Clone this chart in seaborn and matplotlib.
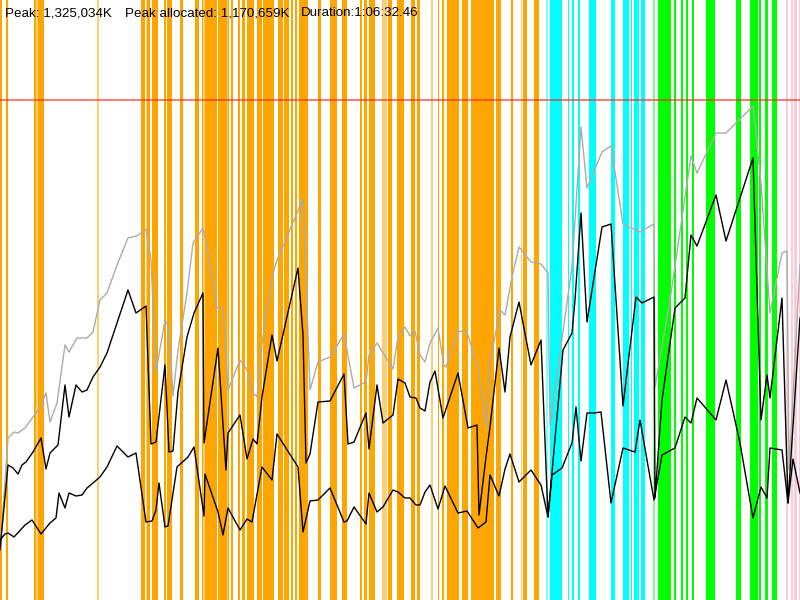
import matplotlib
matplotlib.use("Agg")
import matplotlib.pyplot as plt
import seaborn as sns
import pandas as pd

# ---------------- data (time in px-units, memory in relative units; peak = 500) -------------
peak_level = 500
header_peak = "Peak: 1,325,034K"
header_alloc = "Peak allocated: 1,170,659K"
header_duration = "Duration:1:06:32.46"

committed_t = [1, 8, 14, 18, 25, 33, 40, 46, 50, 57, 65, 69, 77, 87, 93, 100, 107, 117, 128, 137,
               146, 151, 156, 165, 169, 173, 178, 187, 193, 203, 207, 217, 223, 228, 240, 247, 253, 257, 262, 272,
               277, 303, 310, 318, 330, 344, 354, 366, 369, 377, 393, 398, 405, 410, 415, 420, 425, 430, 438, 444,
               446, 458, 467, 478, 486, 490, 500, 505, 512, 519, 531, 541, 548, 550, 572, 581, 587, 602, 611, 623,
               640, 654, 655, 670, 691, 697, 716, 726, 753, 761, 770, 782, 787, 789, 800]
committed_mem = [60, 162, 168, 167, 172, 183, 193, 207, 178, 197, 255, 248, 262, 262, 268, 300, 307, 335, 362, 364,
                 371, 340, 228, 280, 273, 204, 250, 307, 357, 372, 353, 292, 292, 210, 240, 230, 207, 203, 257, 323,
                 340, 401, 210, 238, 243, 266, 212, 218, 245, 257, 231, 263, 273, 264, 269, 245, 238, 257, 272, 234,
                 233, 269, 268, 232, 173, 238, 290, 285, 323, 353, 338, 336, 327, 175, 333, 473, 412, 448, 454, 376,
                 368, 376, 213, 300, 444, 427, 467, 467, 494, 417, 287, 347, 349, 130, 335]

used_t = [0, 8, 13, 18, 22, 26, 33, 41, 46, 50, 58, 65, 69, 76, 82, 87, 93, 100, 107, 117,
          128, 136, 146, 151, 156, 165, 169, 173, 178, 187, 194, 203, 204, 218, 226, 228, 240, 247, 253, 257,
          262, 272, 277, 298, 303, 306, 310, 318, 330, 344, 348, 354, 366, 369, 377, 383, 393, 398, 405, 410,
          416, 420, 425, 430, 435, 443, 458, 468, 477, 479, 486, 490, 499, 505, 510, 519, 531, 541, 548, 563,
          572, 575, 581, 587, 602, 611, 623, 636, 642, 654, 655, 662, 675, 685, 691, 697, 716, 726, 753, 761,
          767, 770, 782, 788, 800]
used_mem = [50, 135, 132, 126, 135, 138, 148, 162, 131, 147, 155, 215, 183, 215, 208, 210, 223, 233, 247, 277,
            310, 287, 294, 156, 158, 235, 148, 149, 208, 263, 287, 307, 157, 252, 130, 167, 185, 141, 161, 156,
            203, 265, 239, 332, 265, 137, 146, 198, 199, 226, 156, 158, 187, 151, 215, 177, 185, 221, 217, 203,
            202, 192, 189, 218, 229, 182, 227, 172, 175, 85, 143, 173, 252, 208, 263, 298, 235, 260, 83, 250,
            267, 300, 387, 278, 373, 376, 194, 303, 297, 303, 102, 200, 292, 302, 365, 354, 405, 359, 442, 180,
            225, 202, 302, 97, 282]

live_t = [0, 5, 8, 14, 25, 32, 41, 50, 56, 59, 65, 69, 76, 82, 87, 100, 107, 117, 128, 136,
          146, 152, 156, 159, 165, 168, 177, 188, 194, 204, 205, 218, 223, 228, 240, 247, 252, 262, 272, 277,
          298, 303, 310, 318, 330, 344, 347, 354, 366, 369, 377, 383, 393, 398, 405, 410, 416, 420, 425, 430,
          438, 445, 458, 467, 478, 486, 490, 499, 505, 510, 519, 531, 541, 548, 552, 562, 572, 576, 581, 587,
          594, 601, 611, 623, 635, 640, 654, 662, 675, 685, 691, 697, 716, 726, 740, 753, 761, 767, 770, 782,
          788, 793, 800]
live_mem = [60, 66, 67, 63, 75, 80, 66, 77, 82, 107, 92, 107, 104, 105, 112, 123, 133, 154, 143, 147,
            78, 79, 90, 117, 73, 74, 133, 143, 153, 84, 126, 88, 65, 92, 70, 81, 78, 133, 120, 166,
            133, 68, 99, 100, 112, 78, 79, 93, 76, 107, 88, 93, 110, 108, 102, 102, 95, 95, 108, 115,
            91, 114, 87, 89, 72, 78, 125, 104, 131, 146, 118, 130, 115, 83, 125, 132, 157, 193, 139, 187,
            187, 188, 97, 152, 148, 180, 100, 145, 152, 183, 177, 202, 180, 220, 157, 82, 113, 102, 152, 150,
            97, 141, 107]

# GC / event intervals (start, end)
orange_events = [(0, 2), (6, 7.7), (34, 36), (37.5, 44), (141, 145.3), (147, 150), (151.7, 156), (156.3, 158.3),
                 (164, 166), (166.7, 172), (180, 183), (194.7, 199), (201.7, 203.3), (204.7, 212.7), (213.3, 216.7),
                 (218.3, 226.7), (228, 229.3), (230.7, 233.3), (237.7, 240), (241.7, 245), (246.7, 254),
                 (257.3, 261.7), (263.3, 274), (278, 282.7), (284, 289.3), (290.7, 293.3), (294.7, 297.3),
                 (299.3, 308.3), (317.7, 320.7), (330, 336.7), (342, 346.7), (360, 362), (364, 366.7),
                 (369.3, 375), (388.3, 392.3), (396.7, 404), (410.7, 415), (416.7, 420), (437.7, 439.3),
                 (441.7, 444), (446.7, 459.3), (461.7, 468.3), (470.7, 494.3), (496, 501), (511, 512.7),
                 (523.3, 527.3), (534.3, 539.3)]
orange_minor = [(36, 37.5), (97, 98.7), (145.5, 147), (203.3, 204.7), (226.7, 228), (381.7, 386.7),
                (431, 432.7), (520.7, 522.3)]
cyan_events = [(550, 562), (567.7, 569.3), (571.7, 574), (577.7, 580), (589.3, 596), (611, 615),
               (622.7, 629.3), (630.7, 631.7), (634.3, 638.7), (640.7, 645)]
cyan_minor = [(546, 548)]
green_events = [(657.7, 660.7), (661.3, 664.7), (665.3, 671), (674, 675.7), (680.7, 682.7), (685.7, 688.3),
                (691.7, 694), (706, 711.7), (712.3, 715), (735.7, 741.3), (750, 752.7), (753.3, 758.3),
                (759.3, 761), (765, 768.3), (771.7, 776.7)]
green_minor = [(652.7, 655)]
pink_events = [(786, 787.7), (791, 792.7), (794.3, 796.7), (799.3, 800)]

# ---------------- plotting ----------------
sns.set_style("white")
plt.rcParams["font.family"] = ["Liberation Sans", "DejaVu Sans"]

fig = plt.figure(figsize=(8, 6), dpi=100)
ax = fig.add_axes([0, 0, 1, 1])

band_specs = [
    (orange_events, "#FFA500", 1.0),
    (orange_minor, "#FFA500", 0.55),
    (cyan_events, "#00FFFF", 1.0),
    (cyan_minor, "#00FFFF", 0.5),
    (green_events, "#00FF00", 1.0),
    (green_minor, "#00FF00", 0.5),
    (pink_events, "#FFC0CB", 0.8),
]
for spans, col, a in band_specs:
    for s, e in spans:
        ax.axvspan(s, e, color=col, alpha=a, lw=0, zorder=1)

ax.axhline(peak_level, color="#FF2020", alpha=0.6, lw=1.4, zorder=2)

df = pd.concat([
    pd.DataFrame({"t": committed_t, "mem": committed_mem, "series": "committed"}),
    pd.DataFrame({"t": used_t, "mem": used_mem, "series": "used"}),
    pd.DataFrame({"t": live_t, "mem": live_mem, "series": "live"}),
], ignore_index=True)

palette = {"committed": "#ABABAB", "used": "#000000", "live": "#000000"}
sns.lineplot(data=df, x="t", y="mem", hue="series", units="series", estimator=None,
             sort=False, palette=palette, linewidth=1.0, legend=False, ax=ax, zorder=3)
ax.set_xlim(0, 800)
ax.set_ylim(0, 600)
ax.axis("off")

ty = 1 - 13 / 600
fig.text(5 / 800, ty, header_peak, fontsize=9.6, va="center", ha="left", color="black")
fig.text(125 / 800, ty, header_alloc, fontsize=9.6, va="center", ha="left", color="black")
fig.text(301 / 800, ty, header_duration, fontsize=9.6, va="center", ha="left", color="black")

fig.savefig("out.png", dpi=100)
